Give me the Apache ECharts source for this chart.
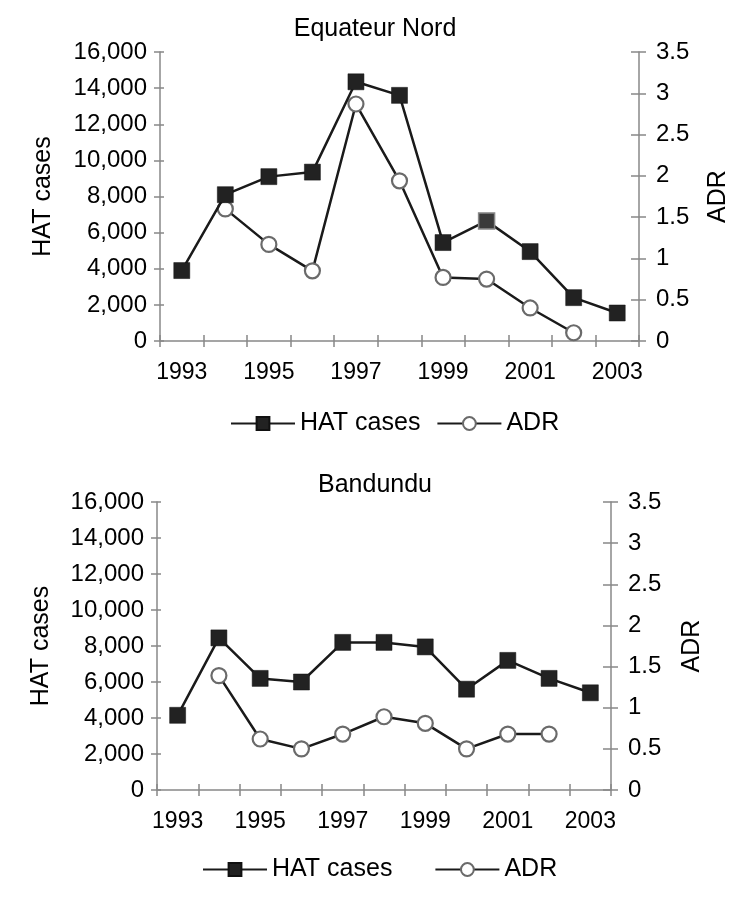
<!DOCTYPE html>
<html>
<head>
<meta charset="utf-8">
<script src="https://cdn.jsdelivr.net/npm/echarts@6/dist/echarts.min.js"></script>
<style>
html,body{margin:0;padding:0;background:#fff;}
#chart{width:750px;height:899px;}
</style>
</head>
<body>
<div id="chart"></div>
<script>
// ---- data ----
const years = ['1993','1994','1995','1996','1997','1998','1999','2000','2001','2002','2003'];
const hatEquateur = [3900, 8100, 9100, 9350, 14350, 13600, 5450, 6650, 4950, 2400, 1550];
const adrEquateur = [null, 1.60, 1.17, 0.85, 2.87, 1.94, 0.77, 0.75, 0.40, 0.10, null];
const hatBandundu = [4150, 8450, 6200, 6000, 8200, 8200, 7950, 5600, 7200, 6200, 5400];
const adrBandundu = [null, 1.39, 0.62, 0.50, 0.68, 0.89, 0.81, 0.50, 0.68, 0.68, null];
const leftTicks = {min: 0, max: 16000, interval: 2000};
const rightTicks = {min: 0, max: 3.5, interval: 0.5};
const titles = ['Equateur Nord', 'Bandundu'];

const FONT = 'Liberation Sans, Arial, sans-serif';
const FS = 24;     // y tick labels
const FSX = 23;    // x tick labels
const FSB = 25;    // titles, names, legend
const AX = '#888';
const INK = '#1a1a1a';

const chart = echarts.init(document.getElementById('chart'), null, {renderer: 'canvas'});

const grids = [
  {left: 160, right: 111, top: 52, height: 289},
  {left: 157, right: 139, top: 502, height: 288}
];

function xAxes(g) {
  return [
    {type: 'category', gridIndex: g, data: years, position: 'bottom', boundaryGap: true,
      axisLine: {lineStyle: {color: AX, width: 1.5}},
      axisTick: {show: true, interval: 0, length: 6, lineStyle: {color: AX, width: 1.5}},
      axisLabel: {interval: 1, color: '#000', fontSize: FSX, fontFamily: FONT, margin: 20}},
    {type: 'category', gridIndex: g, data: years, position: 'bottom', boundaryGap: true,
      axisLine: {show: false},
      axisTick: {show: true, inside: true, interval: 0, length: 6, lineStyle: {color: AX, width: 1.5}},
      axisLabel: {show: false}}
  ];
}

function yAxes(g, nameGapL, nameGapR) {
  return [
    {type: 'value', gridIndex: g, position: 'left', min: leftTicks.min, max: leftTicks.max, interval: leftTicks.interval,
      name: 'HAT cases', nameLocation: 'middle', nameGap: nameGapL, nameRotate: 90,
      nameTextStyle: {color: '#000', fontSize: FSB, fontFamily: FONT},
      splitLine: {show: false},
      axisLine: {show: true, lineStyle: {color: AX, width: 1.5}},
      axisTick: {show: true, length: 6, lineStyle: {color: AX, width: 1.5}},
      axisLabel: {color: '#000', fontSize: FS, fontFamily: FONT, margin: 13,
        formatter: v => v.toLocaleString('en-US')}},
    {type: 'value', gridIndex: g, position: 'right', min: rightTicks.min, max: rightTicks.max, interval: rightTicks.interval,
      name: 'ADR', nameLocation: 'middle', nameGap: nameGapR, nameRotate: 90,
      nameTextStyle: {color: '#000', fontSize: FSB, fontFamily: FONT},
      splitLine: {show: false},
      axisLine: {show: true, lineStyle: {color: AX, width: 1.5}},
      axisTick: {show: true, length: 7, lineStyle: {color: AX, width: 1.5}},
      axisLabel: {color: '#000', fontSize: FS, fontFamily: FONT, margin: 17}},
    {type: 'value', gridIndex: g, position: 'left', min: leftTicks.min, max: leftTicks.max, interval: leftTicks.interval,
      splitLine: {show: false}, axisLine: {show: false},
      axisTick: {show: true, inside: true, length: 4, lineStyle: {color: AX, width: 1.5}},
      axisLabel: {show: false}},
    {type: 'value', gridIndex: g, position: 'right', min: rightTicks.min, max: rightTicks.max, interval: rightTicks.interval,
      splitLine: {show: false}, axisLine: {show: false},
      axisTick: {show: true, inside: true, length: 8, lineStyle: {color: AX, width: 1.5}},
      axisLabel: {show: false}}
  ];
}

function hatSeries(values, g, special) {
  return {
    name: 'HAT cases', type: 'line', xAxisIndex: g * 2, yAxisIndex: g * 4,
    data: values.map((v, i) => special && special.indexOf(i) >= 0
      ? {value: v, itemStyle: {color: '#3a3a3a', borderColor: '#888', borderWidth: 1.5}}
      : v),
    symbol: 'rect', symbolSize: 16, showAllSymbol: true,
    lineStyle: {color: INK, width: 2.5},
    itemStyle: {color: '#222', borderColor: '#111', borderWidth: 0.5},
    z: 3, animation: false
  };
}
function adrSeries(values, g) {
  return {
    name: 'ADR', type: 'line', xAxisIndex: g * 2, yAxisIndex: g * 4 + 1,
    data: values, connectNulls: false,
    symbol: 'circle', symbolSize: 15, showAllSymbol: true,
    lineStyle: {color: INK, width: 2.5},
    itemStyle: {color: '#fff', borderColor: '#6a6a6a', borderWidth: 2.2},
    z: 2, animation: false
  };
}

const option = {
  backgroundColor: '#fff',
  animation: false,
  title: [
    {text: titles[0], left: 'center', top: 12, textStyle: {fontSize: FSB, fontWeight: 'normal', color: '#000', fontFamily: FONT}},
    {text: titles[1], left: 'center', top: 468, textStyle: {fontSize: FSB, fontWeight: 'normal', color: '#000', fontFamily: FONT}}
  ],
  legend: [
    {left: 225, top: 406, itemWidth: 64, itemHeight: 16, itemGap: 16, data: ['HAT cases', 'ADR'],
      textStyle: {fontSize: FSB, color: '#000', fontFamily: FONT}, selectedMode: false},
    {left: 197, top: 852, itemWidth: 64, itemHeight: 16, itemGap: 42, data: ['HAT cases', 'ADR'],
      textStyle: {fontSize: FSB, color: '#000', fontFamily: FONT}, selectedMode: false}
  ],
  grid: grids,
  xAxis: [...xAxes(0), ...xAxes(1)],
  yAxis: [...yAxes(0, 104, 67), ...yAxes(1, 103, 69)],
  series: [
    adrSeries(adrEquateur, 0),
    hatSeries(hatEquateur, 0, [7]),
    adrSeries(adrBandundu, 1),
    hatSeries(hatBandundu, 1, null)
  ]
};
chart.setOption(option);
</script>
</body>
</html>
